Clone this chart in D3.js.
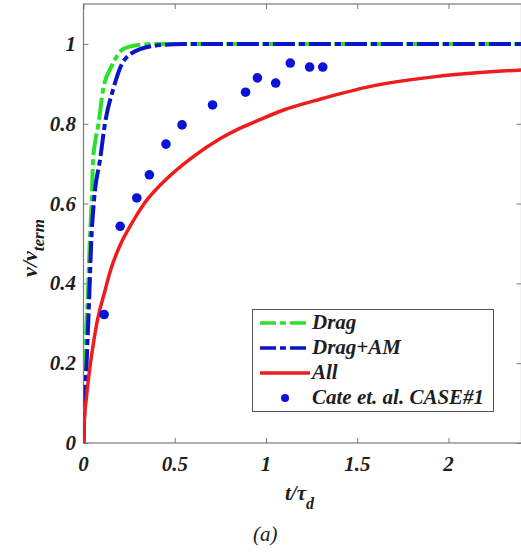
<!DOCTYPE html>
<html>
<head>
<meta charset="utf-8">
<script src="https://cdn.jsdelivr.net/npm/d3@7"></script>
<style>
  html, body { margin: 0; padding: 0; background: #fff; }
  svg { display: block; }
</style>
</head>
<body>
<div id="chart"></div>
<script>
// Values
const dragX = [0, 0.004, 0.009, 0.016, 0.023, 0.034, 0.045, 0.053, 0.066, 0.082, 0.108, 0.155, 0.218, 0.3, 0.4, 2.4];
const dragY = [0, 0.1, 0.2, 0.3, 0.36, 0.5, 0.61, 0.711, 0.76, 0.8, 0.887, 0.945, 0.987, 0.997, 1, 1];

const dragAmX = [0, 0.006, 0.017, 0.024, 0.031, 0.042, 0.058, 0.091, 0.119, 0.163, 0.217, 0.31, 0.42, 0.55, 2.4];
const dragAmY = [0, 0.1, 0.2, 0.28, 0.36, 0.5, 0.61, 0.711, 0.804, 0.887, 0.955, 0.987, 0.997, 1, 1];

const allX = [0, 0.005, 0.015, 0.027, 0.046, 0.073, 0.119, 0.146, 0.2, 0.264, 0.33, 0.456, 0.6, 0.75, 0.85, 0.965, 1.1, 1.3, 1.567, 1.931, 2.4];
const allY = [0, 0.06, 0.11, 0.16, 0.225, 0.3, 0.384, 0.43, 0.495, 0.55, 0.598, 0.662, 0.717, 0.763, 0.787, 0.81, 0.835, 0.862, 0.893, 0.918, 0.935];

const cateX = [0.113, 0.201, 0.292, 0.361, 0.452, 0.54, 0.707, 0.888, 0.953, 1.053, 1.133, 1.239, 1.311];
const cateY = [0.322, 0.543, 0.614, 0.672, 0.749, 0.797, 0.847, 0.879, 0.915, 0.902, 0.952, 0.942, 0.942];

const xTicks = [0, 0.5, 1, 1.5, 2];
const xTickLabels = ["0", "0.5", "1", "1.5", "2"];
const yTicks = [0, 0.2, 0.4, 0.6, 0.8, 1];
const yTickLabels = ["0", "0.2", "0.4", "0.6", "0.8", "1"];

const legendLabels = ["Drag", "Drag+AM", "All", "Cate et. al. CASE#1"];

const W = 521, H = 552;
const plot = { left: 83.5, right: 521.5, top: 4, bottom: 443 };
const FONT = '"Liberation Serif", "Times New Roman", serif';

const colors = {
  drag: "#2ee02e",
  dragAm: "#0a14c8",
  all: "#ee1c1c",
  cate: "#0a14d8",
  axis: "#7a7a7a",
  text: "#1e1e1e",
};

const svg = d3.select("#chart").append("svg")
  .attr("width", W)
  .attr("height", H);

const x = d3.scaleLinear().domain([0, 2.4]).range([plot.left, plot.right]);
const y = d3.scaleLinear().domain([0, 1.1]).range([plot.bottom, plot.top]);

// helper for the bold italic Times look
function serif(sel, size, bold = true) {
  return sel
    .style("font-family", FONT)
    .style("font-weight", bold ? "bold" : "normal")
    .style("font-style", "italic")
    .style("font-size", `${size}px`)
    .attr("fill", colors.text);
}

// clip to plot area
svg.append("clipPath").attr("id", "clip")
  .append("rect")
  .attr("x", plot.left).attr("y", plot.top)
  .attr("width", plot.right - plot.left).attr("height", plot.bottom - plot.top);

// Axes (MATLAB box style, ticks inward)
const tickLen = 5;
svg.append("g")
  .attr("transform", `translate(0,${plot.bottom})`)
  .call(d3.axisBottom(x).tickValues(xTicks).tickSize(-tickLen).tickFormat(""))
  .call(g => g.select(".domain").remove());
svg.append("g")
  .attr("transform", `translate(0,${plot.top})`)
  .call(d3.axisTop(x).tickValues(xTicks).tickSize(-tickLen).tickFormat(""))
  .call(g => g.select(".domain").remove());
svg.append("g")
  .attr("transform", `translate(${plot.left},0)`)
  .call(d3.axisLeft(y).tickValues(yTicks).tickSize(-tickLen).tickFormat(""))
  .call(g => g.select(".domain").remove());
svg.append("g")
  .attr("transform", `translate(${plot.right},0)`)
  .call(d3.axisRight(y).tickValues(yTicks).tickSize(-tickLen).tickFormat(""))
  .call(g => g.select(".domain").remove());
svg.selectAll(".tick line").attr("stroke", colors.axis).attr("stroke-width", 1);

svg.append("rect")
  .attr("x", plot.left).attr("y", plot.top)
  .attr("width", plot.right - plot.left).attr("height", plot.bottom - plot.top)
  .attr("fill", "none")
  .attr("stroke", colors.axis)
  .attr("stroke-width", 1.2);

// Tick labels
svg.append("g").selectAll("text")
  .data(xTicks)
  .enter().append("text")
  .attr("x", d => x(d))
  .attr("y", 471)
  .attr("text-anchor", "middle")
  .call(serif, 21)
  .text((d, i) => xTickLabels[i]);

svg.append("g").selectAll("text")
  .data(yTicks)
  .enter().append("text")
  .attr("x", 76)
  .attr("y", d => y(d) + 7)
  .attr("text-anchor", "end")
  .call(serif, 21)
  .text((d, i) => yTickLabels[i]);

// Lines
const line = d3.line()
  .x(d => x(d[0]))
  .y(d => y(d[1]))
  .curve(d3.curveMonotoneX);

const lines = svg.append("g").attr("clip-path", "url(#clip)");

lines.append("path")
  .datum(d3.zip(dragX, dragY))
  .attr("d", line)
  .attr("fill", "none")
  .attr("stroke", colors.drag)
  .attr("stroke-width", 4)
  .attr("stroke-dasharray", "22,4,6,4");

lines.append("path")
  .datum(d3.zip(dragAmX, dragAmY))
  .attr("d", line)
  .attr("fill", "none")
  .attr("stroke", colors.dragAm)
  .attr("stroke-width", 4)
  .attr("stroke-dasharray", "22,4,6,4");

lines.append("path")
  .datum(d3.zip(allX, allY))
  .attr("d", line)
  .attr("fill", "none")
  .attr("stroke", colors.all)
  .attr("stroke-width", 3.5);

lines.append("g").selectAll("circle")
  .data(d3.zip(cateX, cateY))
  .enter().append("circle")
  .attr("cx", d => x(d[0]))
  .attr("cy", d => y(d[1]))
  .attr("r", 4.8)
  .attr("fill", colors.cate);

// Legend
const legend = svg.append("g");
legend.append("rect")
  .attr("x", 252.5).attr("y", 309.5)
  .attr("width", 241).attr("height", 102)
  .attr("fill", "#fff")
  .attr("stroke", "#555")
  .attr("stroke-width", 1);

const legendStyles = [
  { type: "line", color: colors.drag, dash: "16,4,6,4" },
  { type: "line", color: colors.dragAm, dash: "16,4,6,4" },
  { type: "line", color: colors.all, dash: null },
  { type: "dot", color: colors.cate },
];

legendLabels.forEach((label, i) => {
  const cy = 323 + i * 25;
  const s = legendStyles[i];
  if (s.type === "line") {
    legend.append("line")
      .attr("x1", 260).attr("x2", 310)
      .attr("y1", cy).attr("y2", cy)
      .attr("stroke", s.color)
      .attr("stroke-width", 3.5)
      .attr("stroke-dasharray", s.dash);
  } else {
    legend.append("circle")
      .attr("cx", 285).attr("cy", cy)
      .attr("r", 4)
      .attr("fill", s.color);
  }
  legend.append("text")
    .attr("x", 312)
    .attr("y", cy + 6)
    .call(serif, 21)
    .text(label);
});

// Axis titles
const xTitle = svg.append("text")
  .attr("x", 285)
  .attr("y", 500)
  .call(serif, 21);
xTitle.append("tspan").text("t/τ");
xTitle.append("tspan").attr("dy", 9).style("font-size", "16px").text("d");

const yTitle = svg.append("text")
  .attr("transform", "translate(37,248) rotate(-90)")
  .attr("text-anchor", "middle")
  .call(serif, 22);
yTitle.append("tspan").text("v/v");
yTitle.append("tspan").attr("dy", 7).style("font-size", "17px").text("term");

svg.append("text")
  .attr("x", 253)
  .attr("y", 541)
  .call(serif, 21, false)
  .text("(a)");
</script>
</body>
</html>
